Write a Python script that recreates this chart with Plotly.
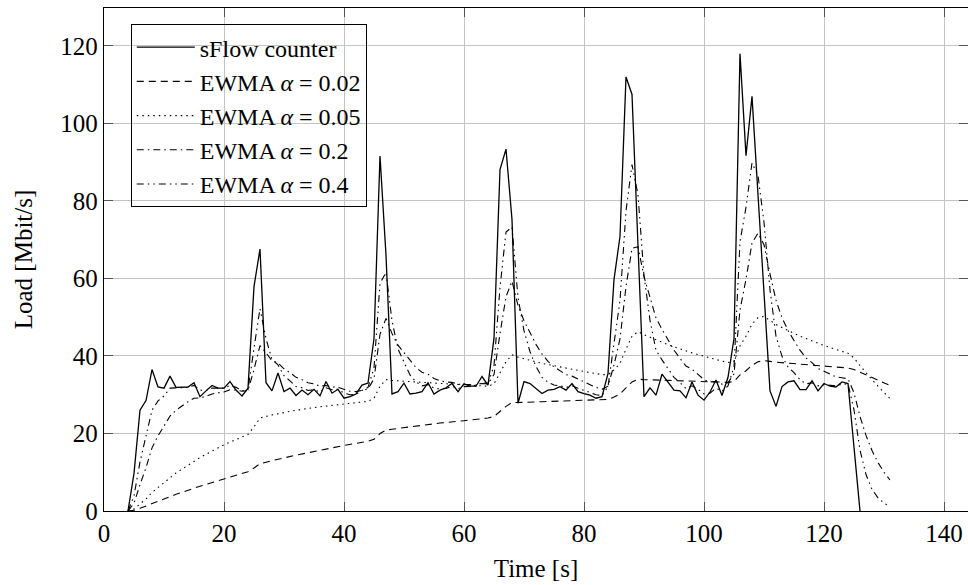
import plotly.graph_objects as go

# ---------------- data ----------------
time_s = list(range(4, 132))  # 1 s samples, t = 4 .. 131
time_sflow = list(range(4, 127))  # counter trace ends when it reaches 0 at t = 126

sflow = [0, 9.7, 26, 28.5, 36.5, 32, 31.7, 34.8, 31.9, 32, 32, 33.1, 29.5, 31, 32.4, 31.7, 31.7, 33.4, 31.2, 29.7, 31.7,
         57.9, 67.6, 33.1, 31, 35.6, 30.8, 31.7, 29.8, 31.2, 30, 31.4, 29.7, 33.4, 30.4, 31.4, 29.1, 29.5, 30.2, 32.5, 33,
         44.5, 91.6, 66, 30.2, 30.8, 33, 30.2, 30.4, 30.8, 33.1, 30.2, 31.2, 31.8, 32.9, 30.8, 32.8, 32.2, 32.2, 34.7, 32.5,
         44.6, 88.1, 93.4, 75.2, 27.8, 33.4, 32.9, 31.6, 30.3, 31.2, 31.4, 32.1, 31.2, 32.9, 30.8, 30.3, 29.9, 29.1, 29.5, 35.5,
         59.7, 70.9, 112, 107.5, 70, 29.5, 31.8, 29.9, 35.3, 33.1, 31.2, 31, 29.2, 33.3, 29.9, 28.6, 30.7, 33.8, 29.8, 34.5,
         44.5, 118, 91.7, 107, 81.7, 56.3, 31, 27, 32.1, 33.3, 33.6, 31.3, 31.3, 33.6, 31, 32.9, 32.2, 32, 33.3, 32.9,
         16, 0]

ewma_020 = [0, 2, 6.8, 11.2, 16.3, 19.4, 21.9, 24.5, 26.0, 27.2, 28.2, 29.1, 29.2, 29.6, 30.2, 30.5, 30.7, 31.3, 31.2, 30.9, 31.1,
            36.5, 42.7, 40.8, 38.8, 38.2, 36.7, 35.7, 34.5, 33.9, 33.1, 32.8, 32.2, 32.4, 32.0, 31.9, 31.3, 30.9, 30.8, 31.1, 31.5,
            34.1, 45.6, 49.7, 45.8, 42.8, 40.8, 38.7, 37.0, 35.8, 35.3, 34.2, 33.6, 33.3, 33.2, 32.7, 32.7, 32.6, 32.5, 32.9, 32.8,
            35.2, 45.8, 55.3, 59.3, 53.0, 49.1, 45.9, 43.0, 40.5, 38.6, 37.2, 36.2, 35.2, 34.8, 34.0, 33.3, 32.6, 31.9, 31.4, 32.2,
            37.7, 44.4, 57.9, 67.8, 68.2, 60.5, 54.8, 49.8, 46.9, 44.1, 41.5, 39.4, 37.4, 36.6, 35.3, 33.9, 33.3, 33.4, 32.7, 33.1,
            35.4, 51.9, 59.8, 69.2, 71.7, 68.7, 61.2, 54.4, 49.9, 46.6, 44.0, 41.5, 39.5, 38.3, 36.8, 36.0, 35.2, 34.6, 34.4, 34.1,
            30.5, 24.4, 19.5, 15.6, 12.5, 10.0, 8.0]

ewma_040 = [0, 3.9, 12.7, 19.0, 26.0, 28.4, 29.7, 31.7, 31.8, 31.9, 31.9, 32.4, 31.2, 31.1, 31.7, 31.7, 31.7, 32.4, 31.9, 31.0, 31.3,
            42.0, 52.2, 44.5, 39.1, 37.7, 34.9, 33.6, 32.1, 31.8, 31.1, 31.3, 30.7, 31.8, 31.3, 31.4, 30.4, 30.0, 30.1, 31.1, 31.9,
            36.9, 58.7, 61.6, 49.1, 41.8, 38.3, 35.1, 33.3, 32.3, 32.6, 31.7, 31.5, 31.6, 32.2, 31.6, 32.1, 32.2, 32.2, 33.2, 32.9,
            37.5, 57.7, 72.0, 73.3, 55.1, 46.5, 41.1, 37.3, 34.5, 33.2, 32.5, 32.3, 31.9, 32.3, 31.7, 31.1, 30.7, 30.0, 29.8, 32.1,
            43.2, 54.3, 77.4, 89.4, 81.6, 60.8, 49.2, 41.5, 39.0, 36.6, 34.5, 33.1, 31.6, 32.3, 31.4, 30.2, 30.4, 31.7, 30.9, 32.3,
            37.2, 69.5, 78.4, 89.8, 86.6, 74.5, 57.1, 45.1, 39.9, 37.2, 35.7, 33.9, 32.8, 33.1, 32.3, 32.6, 32.5, 32.3, 32.7, 32.8,
            26.1, 15.7, 9.4, 5.6, 3.4, 2.0, 1.2]

time_002 = [4, 5, 6, 7, 8, 12, 16, 20, 24, 25, 26, 27, 28, 32, 36, 40, 44, 45, 46, 47, 48, 52, 56, 60, 64, 65, 66, 67, 68, 69,
            73, 77, 81, 84, 85, 86, 87, 88, 89, 90, 94, 98, 102, 104, 105, 106, 107, 108, 109, 110, 111, 112, 116, 120, 124,
            125, 126, 127, 128, 129, 130, 131]
ewma_002 = [0, 0.2, 0.7, 1.3, 2.0, 4.3, 6.4, 8.35, 10.15, 11.1, 12.2, 12.6, 13.0, 14.4, 15.7, 16.9, 18.0, 18.5, 20.0, 20.9, 21.1,
            21.9, 22.7, 23.3, 24.0, 24.4, 25.7, 27.0, 28.0, 28.0, 28.2, 28.4, 28.6, 28.8, 29.4, 30.2, 31.8, 33.3, 34.0, 33.9,
            33.7, 33.5, 33.3, 33.2, 33.4, 35.1, 36.2, 37.6, 38.5, 38.8, 38.6, 38.4, 37.9, 37.4, 36.9,
            36.5, 35.8, 35.1, 34.4, 33.7, 33.0, 32.4]

time_005 = [4, 5, 6, 7, 8, 12, 16, 20, 24, 25, 26, 27, 28, 32, 36, 40, 44, 45, 46, 47, 48, 52, 56, 60, 64, 65, 66, 67, 68, 69,
            73, 77, 81, 83, 84, 85, 86, 87, 88, 89, 90, 94, 98, 102, 104, 105, 106, 107, 108, 109, 110, 111, 112, 116, 120, 124,
            125, 126, 127, 128, 129, 130, 131]
ewma_005 = [0, 0.5, 1.8, 3.1, 4.8, 9.8, 13.8, 17.1, 19.75, 21.7, 24.0, 24.5, 24.8, 26.0, 26.9, 27.6, 28.3, 29.1, 32.2, 33.9, 33.7,
            33.3, 32.9, 32.5, 32.2, 32.8, 35.6, 38.5, 40.3, 39.7, 38.1, 36.8, 35.7, 35.2, 35.2, 36.4, 38.1, 41.8, 45.1, 46.3, 45.5,
            42.9, 40.8, 39.1, 38.3, 38.6, 42.6, 45.1, 48.2, 49.9, 50.2, 49.2, 48.1, 45.1, 42.7, 40.7,
            39.5, 37.5, 35.6, 33.9, 32.2, 30.6, 29.0]

x_ticks = [0, 20, 40, 60, 80, 100, 120, 140]
y_ticks = [0, 20, 40, 60, 80, 100, 120]

# ---------------- figure ----------------
FONT = "Liberation Serif"
fig = go.Figure()

fig.add_trace(go.Scatter(x=time_sflow, y=sflow, mode="lines", name="sFlow counter",
                         line=dict(color="black", width=1.3)))
fig.add_trace(go.Scatter(x=time_002, y=ewma_002, mode="lines", name="EWMA <i>α</i> = 0.02",
                         line=dict(color="black", width=1.1, dash="7px,5px")))
fig.add_trace(go.Scatter(x=time_005, y=ewma_005, mode="lines", name="EWMA <i>α</i> = 0.05",
                         line=dict(color="black", width=1.1, dash="1.5px,4px")))
fig.add_trace(go.Scatter(x=time_s, y=ewma_020, mode="lines", name="EWMA <i>α</i> = 0.2",
                         line=dict(color="black", width=1.1, dash="7px,4px,1.5px,4px")))
fig.add_trace(go.Scatter(x=time_s, y=ewma_040, mode="lines", name="EWMA <i>α</i> = 0.4",
                         line=dict(color="black", width=1.1, dash="7px,4px,1.5px,4px,1.5px,4px")))

axis_common = dict(
    showline=True, linecolor="black", linewidth=1.3, mirror="ticks",
    ticks="inside", ticklen=9, tickwidth=1, tickcolor="#555555",
    showgrid=True, gridcolor="#c4c4c4", gridwidth=1,
    zeroline=False, tickfont=dict(family=FONT, size=25, color="black"),
)

fig.update_layout(
    width=968, height=585,
    margin=dict(l=104, r=0, t=8, b=74),
    paper_bgcolor="white", plot_bgcolor="white",
    font=dict(family=FONT, size=25, color="black"),
    xaxis=dict(range=[0, 144], tickvals=x_ticks,
               title=dict(text="Time [s]", font=dict(family=FONT, size=25), standoff=13),
               **axis_common),
    yaxis=dict(range=[0, 129.8], tickvals=y_ticks,
               title=dict(text="Load [Mbit/s]", font=dict(family=FONT, size=25), standoff=20),
               **axis_common),
    legend=dict(x=0.031, y=0.968, xanchor="left", yanchor="top",
                bgcolor="rgba(0,0,0,0)", bordercolor="black", borderwidth=1,
                font=dict(family=FONT, size=24, color="black"),
                itemwidth=58, tracegroupgap=0),
    showlegend=True,
)

fig.write_html("out.html")
